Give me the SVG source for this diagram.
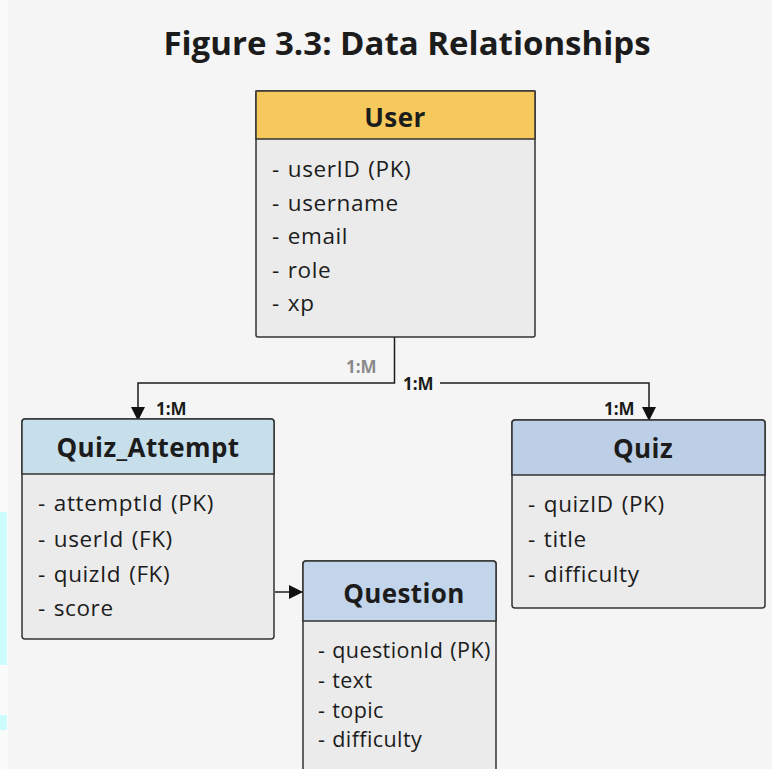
<svg xmlns="http://www.w3.org/2000/svg" width="772" height="769" viewBox="0 0 772 769">
  <defs>
    <marker id="arr" viewBox="0 0 10 10" refX="10" refY="5" markerWidth="14" markerHeight="14" markerUnits="userSpaceOnUse" orient="auto">
      <path d="M0,0 L10,5 L0,10 Z" fill="#111"/>
    </marker>
    <style>
      .title { font-family: "Open Sans", "Noto Sans", sans-serif; font-weight: 700; font-size: 33px; fill: #1c1c1c; }
      .hdr { font-family: "Open Sans", "Noto Sans", sans-serif; font-weight: 700; font-size: 26px; letter-spacing: 0.4px; fill: #1c1c1c; text-anchor: middle; }
      .attr { font-family: "Open Sans", "Noto Sans", sans-serif; font-size: 22.5px; letter-spacing: 0.6px; word-spacing: 1.5px; fill: #1c1c1c; }
      .attrq { font-family: "Open Sans", "Noto Sans", sans-serif; font-size: 21.5px; letter-spacing: 0.4px; word-spacing: 1px; fill: #1c1c1c; }
      .body { fill: #ebebeb; stroke: #333; stroke-width: 1.5; }
      .lbl { font-family: "Open Sans", "Noto Sans", sans-serif; font-weight: 700; font-size: 17px; fill: #1c1c1c; }
      .lblg { font-family: "Open Sans", "Noto Sans", sans-serif; font-weight: 700; font-size: 17px; fill: #8a8a8a; }
      .conn { fill: none; stroke: #1c1c1c; stroke-width: 1.5; }
    </style>
  </defs>
  <rect x="0" y="0" width="772" height="769" fill="#f5f5f5"/>
  <rect x="0" y="0" width="8" height="769" fill="#fbfbfb"/>
  <rect x="0" y="512" width="7" height="153" fill="#ccfcfc"/>
  <rect x="0" y="715" width="7" height="15" fill="#ccfcfc"/>

  <text class="title" x="407" y="55" text-anchor="middle">Figure 3.3: Data Relationships</text>

  <g id="connectors">
    <path class="conn" d="M394.5,337 V383 H138 V421" marker-end="url(#arr)"/>
    <path class="conn" d="M440,383 H649 V421" marker-end="url(#arr)"/>
    <path class="conn" d="M275,592 H303" marker-end="url(#arr)"/>
    <text class="lblg" x="346" y="373">1:M</text>
    <text class="lbl" x="403" y="390">1:M</text>
    <text class="lbl" x="156" y="415">1:M</text>
    <text class="lbl" x="604" y="415">1:M</text>
  </g>

  <g id="user">
    <rect class="body" x="256" y="91" width="279" height="246" rx="2"/>
    <rect x="256" y="91" width="279" height="48" fill="#f6c95c" stroke="#333" stroke-width="1.5"/>
    <text class="hdr" x="395" y="127">User</text>
    <text class="attr" x="272" y="177">- userID (PK)</text>
    <text class="attr" x="272" y="211">- username</text>
    <text class="attr" x="272" y="244">- email</text>
    <text class="attr" x="272" y="278">- role</text>
    <text class="attr" x="272" y="311">- xp</text>
  </g>

  <g id="quiz_attempt">
    <rect class="body" x="22" y="419" width="252" height="220" rx="3"/>
    <path d="M22,474 V422 a3,3 0 0 1 3,-3 H271 a3,3 0 0 1 3,3 V474 Z" fill="#c7dfeb" stroke="#333" stroke-width="1.5"/>
    <text class="hdr" x="148" y="457">Quiz_Attempt</text>
    <text class="attr" x="38" y="511">- attemptId (PK)</text>
    <text class="attr" x="38" y="547">- userId (FK)</text>
    <text class="attr" x="38" y="582">- quizId (FK)</text>
    <text class="attr" x="38" y="616">- score</text>
  </g>

  <g id="quiz">
    <rect class="body" x="512" y="420" width="253" height="188" rx="3"/>
    <path d="M512,475 V423 a3,3 0 0 1 3,-3 H762 a3,3 0 0 1 3,3 V475 Z" fill="#bccfe6" stroke="#333" stroke-width="1.5"/>
    <text class="hdr" x="643" y="458">Quiz</text>
    <text class="attr" x="528" y="512">- quizID (PK)</text>
    <text class="attr" x="528" y="547">- title</text>
    <text class="attr" x="528" y="582">- difficulty</text>
  </g>

  <g id="question">
    <rect class="body" x="303" y="561" width="193" height="230" rx="3"/>
    <path d="M303,621 V564 a3,3 0 0 1 3,-3 H493 a3,3 0 0 1 3,3 V621 Z" fill="#c2d5ea" stroke="#333" stroke-width="1.5"/>
    <text class="hdr" x="404" y="603">Question</text>
    <text class="attrq" x="318" y="658">- questionId (PK)</text>
    <text class="attrq" x="318" y="688">- text</text>
    <text class="attrq" x="318" y="718">- topic</text>
    <text class="attrq" x="318" y="747">- difficulty</text>
  </g>
</svg>
